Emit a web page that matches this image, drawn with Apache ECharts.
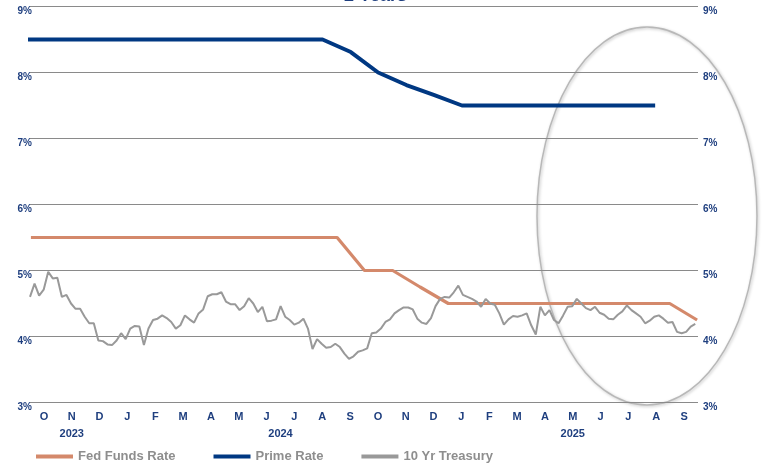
<!DOCTYPE html>
<html><head><meta charset="utf-8">
<script src="https://cdn.jsdelivr.net/npm/echarts@6/dist/echarts.min.js"></script>
<style>html,body{margin:0;padding:0;background:#fff}#c{width:767px;height:468px}</style>
</head><body><div id="c"></div>
<script>
// ---- data ----
const monthLabels = ['O','N','D','J','F','M','A','M','J','J','A','S','O','N','D','J','F','M','A','M','J','J','A','S'];
const yearLabels = ['2023','2024','2025'];
const yearMonthCounts = [3, 12, 9];

const ffrDates = ['2023-09-30','2023-10-31','2023-11-30','2023-12-31','2024-01-31','2024-02-29','2024-03-31','2024-04-30','2024-05-31','2024-06-30','2024-07-31','2024-08-31','2024-09-30','2024-10-31','2024-11-30','2024-12-31','2025-01-31','2025-02-28','2025-03-31','2025-04-30','2025-05-31','2025-06-30','2025-07-31','2025-08-31','2025-09-30'];
const ffrValues = [5.5,5.5,5.5,5.5,5.5,5.5,5.5,5.5,5.5,5.5,5.5,5.5,5.0,5.0,4.75,4.5,4.5,4.5,4.5,4.5,4.5,4.5,4.5,4.5,4.25];

const primeDates = ['2023-09-15','2023-10-15','2023-11-15','2023-12-15','2024-01-15','2024-02-15','2024-03-15','2024-04-15','2024-05-15','2024-06-15','2024-07-15','2024-08-15','2024-09-15','2024-10-15','2024-11-15','2024-12-15','2025-01-15','2025-02-15','2025-03-15','2025-04-15','2025-05-15','2025-06-15','2025-07-15','2025-08-15'];
const primeValues = [8.5,8.5,8.5,8.5,8.5,8.5,8.5,8.5,8.5,8.5,8.5,8.5,8.31,8.0,7.81,7.66,7.5,7.5,7.5,7.5,7.5,7.5,7.5,7.5];

// 10 Yr Treasury, sampled every 5 days from 2023-09-29
const tsyStart = '2023-09-29';
const tsyStepDays = 5;
const tsyValues = [
 4.60,4.80,4.62,4.71,4.98,4.88,4.89,4.60,4.63,4.50,4.42,4.42,4.30,4.20,4.20,3.94,3.93,3.88,3.87,3.94,4.05,3.96,4.12,4.16,4.15,3.87,4.12,4.25,4.27,
 4.32,4.28,4.22,4.12,4.17,4.32,4.26,4.21,4.35,4.41,4.61,4.64,4.64,4.67,4.53,4.49,4.49,4.40,4.46,4.58,4.50,4.37,4.45,4.23,4.24,4.26,4.46,4.30,4.25,4.18,
 4.21,4.27,4.12,3.81,3.96,3.89,3.83,3.84,3.89,3.84,3.74,3.66,3.70,3.77,3.79,3.82,4.05,4.06,4.12,4.22,4.26,4.35,4.40,4.44,4.44,4.41,4.27,4.21,4.19,
 4.28,4.46,4.57,4.60,4.59,4.67,4.77,4.63,4.60,4.57,4.53,4.45,4.57,4.50,4.48,4.35,4.18,4.26,4.31,4.30,4.32,4.35,4.17,4.03,4.45,4.32,4.40,4.25,4.20,
 4.32,4.45,4.46,4.57,4.50,4.43,4.40,4.45,4.36,4.33,4.27,4.26,4.33,4.38,4.47,4.40,4.35,4.30,4.20,4.24,4.30,4.32,4.27,4.21,4.22,4.07,4.05,4.07,4.15,4.19
];

const yMin = 3, yMax = 9, yStep = 1;
const axisMin = '2023-09-29', axisMax = '2025-10-01';

// ---- build ----
const navy = '#1F3F7F';
const sd = tsyStart.split('-').map(Number);
const d0 = new Date(sd[0], sd[1] - 1, sd[2]).getTime();
const tsyData = tsyValues.map((v, i) => [d0 + i * tsyStepDays * 86400000, v]);
const ffrData = ffrDates.map((d, i) => [d, ffrValues[i]]);
const primeData = primeDates.map((d, i) => [d, primeValues[i]]);

// centres of each year's span of months
const yearCenters = {};
let acc = 0;
yearMonthCounts.forEach((n, i) => { yearCenters[(acc + n / 2).toFixed(2)] = yearLabels[i]; acc += n; });

const gridRect = { left: 30, right: 69, top: 6.5, bottom: 65.5 };
const fam = 'Liberation Sans, Arial, sans-serif';
const lblFont = { color: navy, fontWeight: 'bold', fontSize: 10, fontFamily: fam };

const chart = echarts.init(document.getElementById('c'), null, { renderer: 'canvas' });
chart.setOption({
  animation: false,
  backgroundColor: '#fff',
  title: {
    text: '2 Years', left: 339, top: -18,
    textStyle: { color: navy, fontSize: 18, fontWeight: 'bold', fontFamily: fam }
  },
  grid: [Object.assign({}, gridRect), Object.assign({}, gridRect)],
  xAxis: [
    { type: 'time', gridIndex: 0, position: 'top', min: axisMin, max: axisMax, show: false },
    { type: 'category', gridIndex: 0, position: 'bottom', data: monthLabels, boundaryGap: true,
      axisLine: { show: false }, axisTick: { show: false }, splitLine: { show: false },
      axisLabel: Object.assign({ interval: 0, margin: 9 }, lblFont, { fontSize: 11 }) },
    { type: 'value', gridIndex: 1, position: 'bottom', min: 0, max: 24, interval: 0.5,
      axisLine: { show: false }, axisTick: { show: false }, splitLine: { show: false },
      axisLabel: Object.assign({ margin: 26,
        formatter: v => yearCenters[Number(v).toFixed(2)] || '' }, lblFont, { fontSize: 11 }) }
  ],
  yAxis: [
    { type: 'value', gridIndex: 0, position: 'left', min: yMin, max: yMax, interval: yStep,
      axisLine: { show: false }, axisTick: { show: false },
      splitLine: { show: true, lineStyle: { color: '#8a8a8a', width: 1 } },
      axisLabel: Object.assign({ formatter: '{value}%', margin: -2, verticalAlign: 'top' }, lblFont) },
    { type: 'value', gridIndex: 0, position: 'right', min: yMin, max: yMax, interval: yStep,
      axisLine: { show: false }, axisTick: { show: false }, splitLine: { show: false },
      axisLabel: Object.assign({ formatter: '{value}%', margin: 5, verticalAlign: 'top' }, lblFont) },
    { type: 'value', gridIndex: 1, min: 0, max: 1, show: false }
  ],
  legend: {
    left: 31, top: 445, itemWidth: 37, itemHeight: 4, itemGap: 38, icon: 'rect',
    data: ['Fed Funds Rate', 'Prime Rate', '10 Yr Treasury'],
    textStyle: { color: '#8e8e8e', fontSize: 13, fontWeight: 'bold', fontFamily: fam }
  },
  series: [
    { name: 'Fed Funds Rate', type: 'line', xAxisIndex: 0, yAxisIndex: 0, data: ffrData,
      showSymbol: false, lineStyle: { color: '#D4896B', width: 3.2 }, itemStyle: { color: '#D4896B' } },
    { name: 'Prime Rate', type: 'line', xAxisIndex: 0, yAxisIndex: 0, data: primeData,
      showSymbol: false, lineStyle: { color: '#003882', width: 4 }, itemStyle: { color: '#003882' } },
    { name: '10 Yr Treasury', type: 'line', xAxisIndex: 0, yAxisIndex: 0, data: tsyData,
      showSymbol: false, lineStyle: { color: '#999999', width: 2 }, itemStyle: { color: '#999999' } }
  ],
  graphic: [{
    type: 'ellipse', shape: { cx: 647, cy: 216, rx: 110, ry: 189 }, silent: true,
    style: { fill: 'none', stroke: '#b8b8b8', lineWidth: 1.5, shadowBlur: 3, shadowColor: 'rgba(0,0,0,0.25)', shadowOffsetX: 1, shadowOffsetY: 1 }
  }]
});
</script></body></html>
